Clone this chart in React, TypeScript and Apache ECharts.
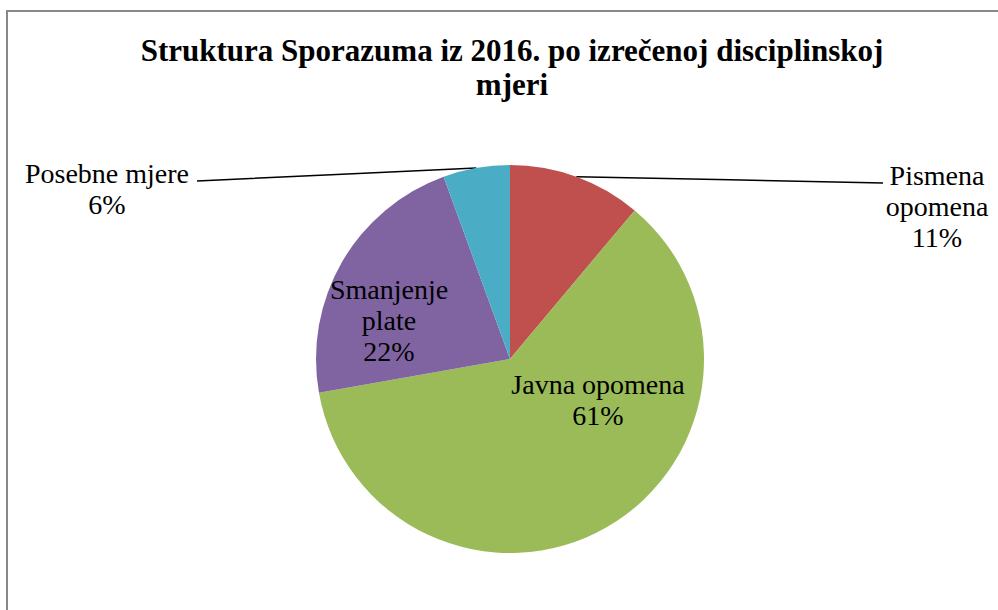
import React, { useEffect, useRef } from "react";
import * as echarts from "echarts";

const titleText = "Struktura Sporazuma iz 2016. po izrečenoj disciplinskoj\nmjeri";
const categories = ["Pismena opomena", "Javna opomena", "Smanjenje plate", "Posebne mjere"];
const counts = [2, 11, 4, 1];
const colors = ["#C0504D", "#9BBB59", "#8064A2", "#4BACC6"];
const wrapName = [true, false, true, false];

const FONT = "Liberation Serif";

export default function App() {
  const ref = useRef<HTMLDivElement>(null);
  useEffect(() => {
    const chart = echarts.init(ref.current!, null, { renderer: "svg" });
    const center = [510, 359];
    chart.setOption({
      animation: false,
      backgroundColor: "#ffffff",
      title: {
        text: titleText,
        left: 512,
        textAlign: "center",
        top: 33,
        padding: 0,
        textStyle: {
          fontFamily: FONT,
          fontWeight: "bold",
          fontSize: 31,
          lineHeight: 34,
          color: "#000",
        },
      },
      graphic: [
        {
          type: "rect",
          shape: { x: 7, y: 11, width: 1200, height: 800 },
          style: { fill: "none", stroke: "#888888", lineWidth: 2 },
          silent: true,
        },
      ],
      series: [
        {
          type: "pie",
          center,
          radius: 194,
          startAngle: 90,
          clockwise: true,
          percentPrecision: 0,
          label: {
            fontFamily: FONT,
            fontSize: 28,
            lineHeight: 31,
            color: "#000",
            align: "center",
            formatter: (p: any) =>
              `${wrapName[p.dataIndex] ? p.name.replace(" ", "\n") : p.name}\n${p.percent}%`,
          },
          labelLine: { lineStyle: { color: "#000", width: 1.5 }, length: 20, length2: 20, smooth: false },
          data: categories.map((name, i) => ({
            name,
            value: counts[i],
            itemStyle: { color: colors[i] },
            label: { position: i === 0 || i === 3 ? "outside" : "inside" },
            labelLine: { show: i === 0 || i === 3 },
          })),
          labelLayout: (p: any) => {
            const i = p.dataIndex;
            if (i === 0) {
              const s = p.labelLinePoints ? p.labelLinePoints[0] : [577, 176];
              const e = [883, 183];
              return {
                x: 937,
                y: 206,
                align: "center",
                verticalAlign: "middle",
                labelLinePoints: [s, [(s[0] + e[0]) / 2, (s[1] + e[1]) / 2], e],
              };
            }
            if (i === 3) {
              const s = p.labelLinePoints ? p.labelLinePoints[0] : [474, 167];
              const e = [197, 181];
              return {
                x: 107,
                y: 189,
                align: "center",
                verticalAlign: "middle",
                labelLinePoints: [s, [(s[0] + e[0]) / 2, (s[1] + e[1]) / 2], e],
              };
            }
            if (i === 2) {
              return { x: 389, y: 320, align: "center", verticalAlign: "middle" };
            }
            return { x: 598, y: 400, align: "center", verticalAlign: "middle" };
          },
        },
      ],
    });
    return () => chart.dispose();
  }, []);
  return (
    <div
      ref={ref}
      style={{ position: "fixed", left: 0, top: 0, width: 998, height: 610 }}
    />
  );
}
